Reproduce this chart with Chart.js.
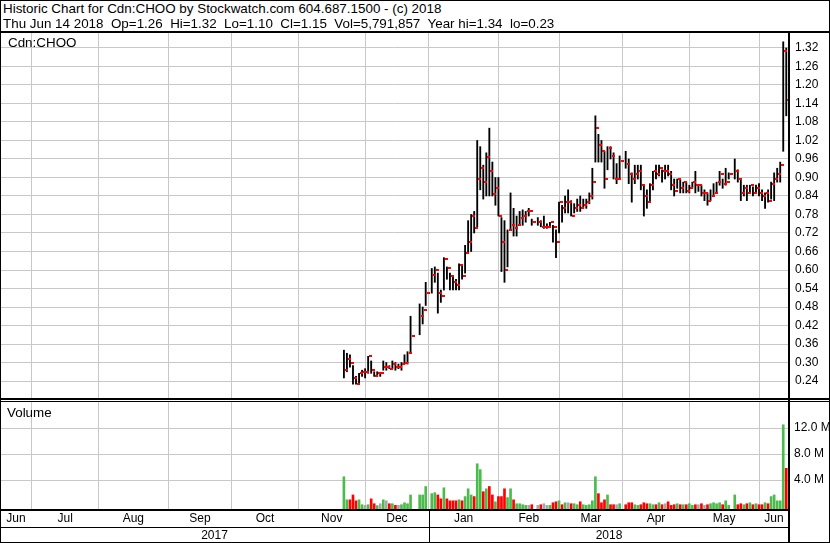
<!DOCTYPE html>
<html>
<head>
<meta charset="utf-8">
<script src="https://cdn.jsdelivr.net/npm/chart.js@4.4.1/dist/chart.umd.min.js"></script>
<style>
  html, body { margin: 0; padding: 0; background: #fff; }
  #frame { position: relative; width: 830px; height: 543px; overflow: hidden;
           font-family: "Liberation Sans", Arial, sans-serif; color: #000; }
  .ln { position: absolute; background: #000; }
  .txt { position: absolute; white-space: pre; font-size: 13.4px; line-height: 15px; }
  .axt { position: absolute; white-space: pre; font-size: 12px; line-height: 14px; text-align: center; }
  canvas { position: absolute; left: 0; }
</style>
</head>
<body>
<div id="frame">
  <canvas id="price" width="830" height="365" style="top:33px"></canvas>
  <canvas id="volume" width="830" height="125" style="top:402px"></canvas>

  <div class="txt" style="left:3px; top:1px;">Historic Chart for Cdn:CHOO by Stockwatch.com 604.687.1500 - (c) 2018</div>
  <div class="txt" style="left:3px; top:16px;">Thu Jun 14 2018  Op=1.26  Hi=1.32  Lo=1.10  Cl=1.15  Vol=5,791,857  Year hi=1.34  lo=0.23</div>
  <div class="txt" style="left:8px; top:35px;">Cdn:CHOO</div>
  <div class="txt" style="left:7px; top:405px;">Volume</div>

  <!-- frame lines -->
  <div class="ln" style="left:0; top:0; width:830px; height:1px;"></div>
  <div class="ln" style="left:0; top:0; width:1px; height:543px;"></div>
  <div class="ln" style="left:829px; top:0; width:1px; height:543px;"></div>
  <div class="ln" style="left:0; top:542px; width:830px; height:1px;"></div>
  <div class="ln" style="left:0; top:31px; width:830px; height:2px;"></div>
  <div class="ln" style="left:0; top:398px; width:830px; height:2px;"></div>
  <div class="ln" style="left:0; top:401px; width:830px; height:1px;"></div>
  <div class="ln" style="left:0; top:509px; width:790px; height:2px;"></div>
  <div class="ln" style="left:0; top:527px; width:790px; height:1px;"></div>
  <div class="ln" style="left:788px; top:31px; width:2px; height:512px;"></div>
  <div class="ln" id="yearDiv" style="top:511px; width:1px; height:31px;"></div>
  <div class="axt" id="year0" style="top:528px;"></div>
  <div class="axt" id="year1" style="top:528px;"></div>
</div>

<script>
// one slot per weekday, starting Wed Nov 22 2017; null = market holiday
const highs = [
  0.34, 0.33, 0.325, 0.29, 0.255, 0.265, 0.275, 0.28, 0.32, 0.305,
  0.27, 0.27, 0.265, 0.305, 0.30, 0.29, 0.305, 0.30, 0.295, 0.30,
  0.325, 0.335, 0.45, null, null, 0.49, 0.48, 0.56, null, 0.605,
  0.61, 0.59, 0.535, 0.64, 0.61, 0.59, 0.58, 0.57, 0.62, 0.615,
  0.68, 0.76, 0.78, 0.79, 1.02, 1.00, 0.94, 0.98, 1.06, 0.95,
  0.90, 0.90, 0.77, 0.76, 0.73, 0.85, 0.80, 0.775, 0.79, 0.795,
  0.79, 0.80, 0.765, null, 0.77, 0.76, 0.775, 0.75, 0.755, 0.745,
  0.73, 0.82, 0.81, 0.84, 0.86, 0.825, 0.815, 0.83, 0.84, 0.83,
  0.83, 0.85, 0.93, 1.10, 1.04, 1.02, 0.985, 1.00, 1.00, 0.98,
  0.945, 0.97, null, 0.985, 0.96, 0.915, 0.94, 0.94, 0.94, 0.875,
  0.86, 0.88, 0.92, 0.94, 0.94, 0.925, 0.94, 0.94, 0.92, 0.895,
  0.895, 0.895, 0.885, 0.885, 0.875, 0.885, 0.92, 0.875, 0.875, 0.86,
  0.85, 0.86, 0.88, 0.885, 0.92, 0.895, 0.93, 0.915, null, 0.96,
  0.925, 0.895, 0.875, 0.875, 0.875, 0.87, 0.875, 0.88, 0.86, 0.85,
  0.86, 0.885, 0.915, 0.93, 0.95, 1.34, 1.32
];
const lows = [
  0.25, 0.27, 0.285, 0.23, 0.23, 0.23, 0.255, 0.25, 0.265, 0.265,
  0.255, 0.255, 0.255, 0.275, 0.275, 0.28, 0.28, 0.275, 0.28, 0.275,
  0.295, 0.295, 0.33, null, null, 0.39, 0.425, 0.485, null, 0.525,
  0.56, 0.46, 0.495, 0.535, 0.57, 0.535, 0.535, 0.535, 0.535, 0.57,
  0.59, 0.655, 0.66, 0.72, 0.74, 0.86, 0.83, 0.84, 0.84, 0.84,
  0.81, 0.775, 0.595, 0.56, 0.61, 0.73, 0.71, 0.71, 0.745, 0.745,
  0.755, 0.775, 0.745, null, 0.745, 0.74, 0.735, 0.735, 0.74, 0.69,
  0.64, 0.72, 0.755, 0.785, 0.785, 0.775, 0.785, 0.79, 0.79, 0.80,
  0.80, 0.815, 0.83, 0.95, 0.95, 0.95, 0.865, 0.925, 0.96, 0.895,
  0.88, 0.895, null, 0.93, 0.88, 0.82, 0.88, 0.895, 0.86, 0.775,
  0.80, 0.82, 0.86, 0.895, 0.905, 0.885, 0.895, 0.905, 0.86, 0.84,
  0.865, 0.85, 0.85, 0.85, 0.85, 0.865, 0.85, 0.855, 0.84, 0.825,
  0.81, 0.825, 0.84, 0.85, 0.875, 0.865, 0.875, 0.895, null, 0.895,
  0.885, 0.825, 0.84, 0.825, 0.85, 0.84, 0.85, 0.84, 0.825, 0.80,
  0.82, 0.83, 0.825, 0.885, 0.885, 0.985, 1.10
];
const closes = [
  0.275, 0.31, 0.30, 0.25, 0.23, 0.265, 0.27, 0.27, 0.32, 0.275,
  0.255, 0.265, 0.265, 0.285, 0.285, 0.28, 0.295, 0.285, 0.285, 0.295,
  0.30, 0.33, 0.385, null, null, 0.45, 0.47, 0.525, null, 0.585,
  0.60, 0.525, 0.515, 0.635, 0.605, 0.58, 0.56, 0.55, 0.615, 0.58,
  0.655, 0.69, 0.775, 0.735, 0.895, 0.93, 0.885, 0.965, 0.92, 0.845,
  0.865, 0.775, 0.69, 0.60, 0.73, 0.745, 0.735, 0.745, 0.77, 0.775,
  0.79, 0.79, 0.755, null, 0.755, 0.74, 0.74, 0.74, 0.755, 0.74,
  0.69, 0.82, 0.80, 0.82, 0.82, 0.775, 0.80, 0.81, 0.80, 0.81,
  0.82, 0.84, 0.885, 1.06, 1.005, 0.985, 0.895, 0.995, 0.97, 0.895,
  0.895, 0.955, null, 0.945, 0.91, 0.895, 0.91, 0.92, 0.875, 0.84,
  0.82, 0.875, 0.92, 0.91, 0.93, 0.92, 0.92, 0.91, 0.875, 0.855,
  0.895, 0.865, 0.885, 0.855, 0.865, 0.885, 0.875, 0.875, 0.85, 0.85,
  0.825, 0.84, 0.85, 0.885, 0.91, 0.88, 0.885, 0.91, null, 0.92,
  0.895, 0.85, 0.865, 0.85, 0.875, 0.85, 0.865, 0.85, 0.84, 0.85,
  0.825, 0.88, 0.895, 0.91, 0.94, 1.31, 1.15
];
// millions of shares
const volumes = [
  4.5, 0.95, 0.95, 1.7, 0.8, 0.95, 0.2, 0.1, 0.2, 1.1,
  0.35, 0.05, 0.35, 0.95, 0.8, 0.35, 0.35, 0.1, 0.1, 0.2,
  0.5, 0.35, 1.7, null, null, 1.7, 1.7, 3.0, null, 1.9,
  2.05, 1.7, 1.1, 2.8, 1.1, 0.8, 0.8, 0.8, 0.95, 0.8,
  1.45, 2.65, 1.7, 1.45, 6.5, 5.6, 2.2, 2.65, 3.0, 1.7,
  0.65, 1.45, 1.45, 2.65, 1.3, 2.65, 0.95, 0.35, 0.35, 0.2,
  0.1, 0.1, 0.2, null, 0.1, 0.2, 0.35, 0.1, 0.1, 0.5,
  0.65, 0.8, 0.2, 0.5, 0.5, 0.35, 0.35, 0.2, 0.65, 0.2,
  0.1, 0.2, 0.8, 4.5, 1.9, 0.5, 0.95, 1.7, 0.2, 0.2,
  0.2, 0.35, null, 0.2, 0.5, 0.5, 0.2, 0.1, 0.2, 0.5,
  0.35, 0.35, 0.2, 0.2, 0.5, 0.2, 0.35, 0.65, 0.1, 0.2,
  0.35, 0.2, 0.2, 0.2, 0.35, 0.1, 0.2, 0.2, 0.35, 0.1,
  0.2, 0.35, 0.5, 0.35, 0.5, 0.2, 0.8, 0.1, null, 1.7,
  0.2, 0.35, 0.2, 0.35, 0.5, 0.2, 0.35, 0.2, 0.2, 0.5,
  0.35, 1.45, 1.7, 0.8, 0.8, 12.5, 5.8
];

const monthLabels = ['Jun', 'Jul', 'Aug', 'Sep', 'Oct', 'Nov', 'Dec', 'Jan', 'Feb', 'Mar', 'Apr', 'May', 'Jun'];
const monthStarts = [-103, -81, -58, -37, -15, 7, 28, 51, 71, 92, 114, 137]; // Jul 2017 .. Jun 2018
const yearLabels = ['2017', '2018'];
const yearStart = 28;
const priceTicks = [0.24, 0.30, 0.36, 0.42, 0.48, 0.54, 0.60, 0.66, 0.72, 0.78, 0.84, 0.90, 0.96, 1.02, 1.08, 1.14, 1.20, 1.26, 1.32];
const volumeTicks = [4, 8, 12];

const X_MIN = -113.5, X_MAX = 146.9;
const GRID = '#c8c8c8';
const FONT = { family: '"Liberation Sans", Arial, sans-serif', size: 12 };
const UP = '#4cbb4c', DOWN = '#ff0000', FLAT = '#a8a8a8';

const monthMids = monthLabels.map((m, i) => {
  const a = i === 0 ? X_MIN : monthStarts[i - 1];
  const b = i < monthStarts.length ? monthStarts[i] : X_MAX;
  return (a + b) / 2;
});

const hlData = [], closeData = [], volData = [], volColors = [];
let prev = null;
for (let i = 0; i < closes.length; i++) {
  if (closes[i] === null) continue;
  hlData.push({ x: i, y: [lows[i], highs[i]] });
  closeData.push({ x: i, y: closes[i] });
  volData.push({ x: i, y: volumes[i] });
  volColors.push(prev === null || closes[i] > prev ? UP : (closes[i] < prev ? DOWN : FLAT));
  prev = closes[i];
}

// little red close tick to the right of each bar
const closeTick = document.createElement('canvas');
closeTick.width = 8;
closeTick.height = 2;
const tctx = closeTick.getContext('2d');
tctx.fillStyle = '#ff0000';
tctx.fillRect(5, 0, 3, 2);

// keep the tick images sharp instead of smeared over fractional pixels
const crispImages = {
  id: 'crispImages',
  beforeDatasetsDraw(chart) { chart.ctx.imageSmoothingEnabled = false; }
};

// chart.js pads scales for half a label; the picture has none
function noPad(s) {
  s.paddingTop = 0; s.paddingBottom = 0; s.paddingLeft = 0; s.paddingRight = 0;
}

function monthGridAxis() {
  return {
    type: 'linear', min: X_MIN, max: X_MAX, offset: false,
    grid: { color: GRID, offset: false, drawTicks: false },
    border: { display: false },
    ticks: { display: false },
    afterBuildTicks: s => { s.ticks = monthStarts.map(v => ({ value: v })); },
    afterFit: s => { s.height = 0; noPad(s); }
  };
}

const common = {
  responsive: false,
  animation: false,
  devicePixelRatio: 1,
  layout: { padding: 0, autoPadding: false },
  plugins: { legend: { display: false }, tooltip: { enabled: false } }
};

new Chart(document.getElementById('price'), {
  type: 'bar',
  data: {
    datasets: [
      { type: 'line', data: closeData, showLine: false, pointStyle: closeTick,
        pointRadius: 2, pointHoverRadius: 2, order: 0 },
      { type: 'bar', data: hlData, backgroundColor: '#000', barThickness: 1.2, order: 1 }
    ]
  },
  options: {
    ...common,
    scales: {
      x: monthGridAxis(),
      y: {
        position: 'right', min: 0.1849, max: 1.3686,
        grid: { color: GRID, drawTicks: false },
        border: { display: false },
        ticks: { color: '#000', font: FONT, padding: 6, callback: v => v.toFixed(2) },
        afterBuildTicks: s => { s.ticks = priceTicks.map(v => ({ value: v })); },
        afterFit: s => { s.width = 41; noPad(s); }
      }
    }
  },
  plugins: [crispImages]
});

const volChart = new Chart(document.getElementById('volume'), {
  type: 'bar',
  data: {
    datasets: [{ data: volData, backgroundColor: volColors, barThickness: 2, base: -0.46 }]
  },
  options: {
    ...common,
    scales: {
      x: monthGridAxis(),
      xm: {
        type: 'linear', position: 'bottom', min: X_MIN, max: X_MAX, offset: false,
        grid: { display: false, drawTicks: false },
        border: { display: false },
        ticks: { color: '#000', font: FONT, padding: 2, maxRotation: 0, autoSkip: false,
                 callback: (v, i) => monthLabels[i] },
        afterBuildTicks: s => { s.ticks = monthMids.map(v => ({ value: v })); },
        afterFit: s => { s.height = 18; noPad(s); }
      },
      y: {
        position: 'right', min: -0.46, max: 16,
        grid: { color: GRID, drawTicks: false },
        border: { display: false },
        ticks: { color: '#000', font: FONT, padding: 5, callback: v => v.toFixed(1) + ' M' },
        afterBuildTicks: s => { s.ticks = volumeTicks.map(v => ({ value: v })); },
        afterFit: s => { s.width = 41; noPad(s); }
      }
    }
  }
});

// year row, split at the first slot of January
const xs = volChart.scales.x;
const splitX = Math.round(xs.getPixelForValue(yearStart));
const rightX = Math.round(xs.right);
document.getElementById('yearDiv').style.left = splitX + 'px';
const y0 = document.getElementById('year0');
y0.textContent = yearLabels[0];
y0.style.left = '0px';
y0.style.width = splitX + 'px';
const y1 = document.getElementById('year1');
y1.textContent = yearLabels[1];
y1.style.left = splitX + 'px';
y1.style.width = (rightX - splitX) + 'px';
</script>
</body>
</html>
